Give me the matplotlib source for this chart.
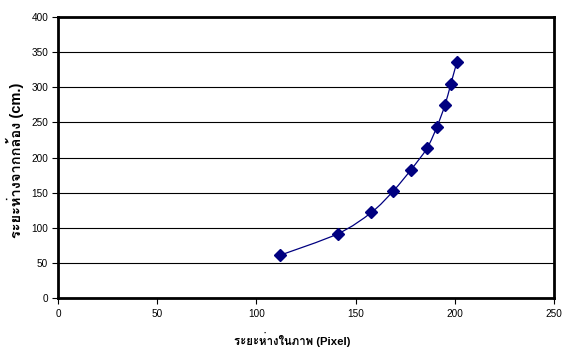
import matplotlib
matplotlib.use("Agg")
import numpy as np
import matplotlib.pyplot as plt
from matplotlib.path import Path
from matplotlib.patches import PathPatch

# distance in the image (pixel) vs distance from the camera (cm)
pixel_dist = [112, 141, 158, 169, 178, 186, 191, 195, 198, 201]
camera_dist = [60.96, 91.44, 121.92, 152.4, 182.88, 213.36, 243.84, 274.32, 304.8, 335.28]

x_ticks = [0, 50, 100, 150, 200, 250]
y_ticks = [0, 50, 100, 150, 200, 250, 300, 350, 400]

NAVY = '#000080'
FONT = ['Liberation Sans', 'Loma', 'DejaVu Sans']


def smooth_path(xs, ys):
    """Catmull-Rom style Bezier path through the points (like a smoothed line)."""
    pts = np.column_stack([xs, ys]).astype(float)
    verts = [pts[0]]
    codes = [Path.MOVETO]
    n = len(pts)
    for i in range(n - 1):
        p0 = pts[i - 1] if i > 0 else pts[i]
        p1 = pts[i]
        p2 = pts[i + 1]
        p3 = pts[i + 2] if i + 2 < n else pts[i + 1]
        c1 = p1 + (p2 - p0) / 6.0
        c2 = p2 - (p3 - p1) / 6.0
        verts += [c1, c2, p2]
        codes += [Path.CURVE4] * 3
    return Path(verts, codes)


fig = plt.figure(figsize=(5.63, 3.47), dpi=100)
ax = fig.add_axes([58 / 563, 49 / 347, 496 / 563, 281 / 347])

ax.set_xlim(0, 250)
ax.set_ylim(0, 400)
ax.set_xticks(x_ticks)
ax.set_yticks(y_ticks)

ax.grid(True, axis='y', color='black', linewidth=0.8)
ax.set_axisbelow(True)

ax.add_patch(PathPatch(smooth_path(pixel_dist, camera_dist), facecolor='none',
                       edgecolor=NAVY, linewidth=0.9, zorder=3))
ax.plot(pixel_dist, camera_dist, linestyle='none', marker='D', markersize=6,
        color=NAVY, markeredgecolor=NAVY, zorder=4)

for side in ax.spines.values():
    side.set_linewidth(2)
    side.set_color('black')

ax.tick_params(direction='out', length=4, width=0.8, colors='black',
               labelsize=7.2, pad=3)
ax.tick_params(axis='x', pad=4)
for lbl in ax.get_xticklabels() + ax.get_yticklabels():
    lbl.set_family(FONT)

fig.text(292 / 563, 1 - 339 / 347, 'ระยะห่างในภาพ (Pixel)', ha='center', va='center',
         fontsize=8.2, fontweight='bold', family=FONT)
fig.text(15 / 563, 1 - 160 / 347, 'ระยะห่างจากกล้อง (cm.)', ha='center', va='center',
         rotation=90, fontsize=10.5, fontweight='bold', family=FONT)

fig.savefig('out.png', dpi=100, facecolor='white')
